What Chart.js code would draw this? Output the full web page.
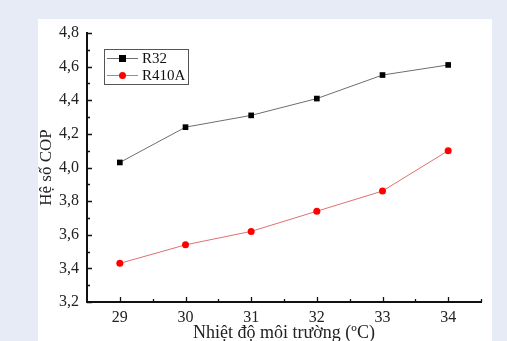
<!DOCTYPE html>
<html>
<head>
<meta charset="utf-8">
<script src="https://cdn.jsdelivr.net/npm/chart.js@4/dist/chart.umd.min.js"></script>
<style>
  html, body { margin: 0; padding: 0; background: #e6ebf5; }
  #wrap { position: relative; width: 507px; height: 341px; overflow: hidden; }
  #panel { position: absolute; left: 38px; top: 19px; width: 454px; height: 330px; background: #fff; }
  #chart { position: absolute; left: 0; top: 0; }
</style>
</head>
<body>
<div id="wrap">
  <div id="panel"></div>
  <canvas id="chart" width="507" height="341"></canvas>
</div>
<script>
const temperatures = [29, 30, 31, 32, 33, 34];
const copR32 = [4.03, 4.24, 4.31, 4.41, 4.55, 4.61];
const copR410A = [3.43, 3.54, 3.62, 3.74, 3.86, 4.10];
const seriesNames = ["R32", "R410A"];
const xTicks = [29, 30, 31, 32, 33, 34];
const xMinorTicks = [29.5, 30.5, 31.5, 32.5, 33.5, 34.5];
const yTicks = [3.2, 3.4, 3.6, 3.8, 4.0, 4.2, 4.4, 4.6, 4.8];
const yMinorTicks = [3.3, 3.5, 3.7, 3.9, 4.1, 4.3, 4.5, 4.7];
const xTitle = "Nhiệt độ môi trường (ºC)";
const yTitle = "Hệ số COP";

const FONT = "'Liberation Serif', 'Times New Roman', serif";

function toPoints(values) {
  return temperatures.map((t, i) => ({ x: t, y: values[i] }));
}

// tick marks drawn inward, like the original plot
const innerTicks = {
  id: "innerTicks",
  afterDraw(chart) {
    const { ctx, chartArea, scales } = chart;
    ctx.save();
    ctx.strokeStyle = "#111";
    ctx.lineWidth = 1.3;
    ctx.beginPath();
    xTicks.concat(xMinorTicks).forEach((v) => {
      const len = xTicks.includes(v) ? 5 : 3;
      const x = Math.round(scales.x.getPixelForValue(v)) + 0.5;
      ctx.moveTo(x, chartArea.bottom);
      ctx.lineTo(x, chartArea.bottom - len);
    });
    yTicks.concat(yMinorTicks).forEach((v) => {
      const len = yTicks.some((t) => Math.abs(t - v) < 1e-9) ? 5 : 3;
      const y = Math.round(scales.y.getPixelForValue(v)) + 0.5;
      ctx.moveTo(chartArea.left, y);
      ctx.lineTo(chartArea.left + len, y);
    });
    ctx.stroke();
    ctx.restore();
  }
};

// boxed legend with line + marker samples
const boxLegend = {
  id: "boxLegend",
  afterDraw(chart) {
    const { ctx } = chart;
    const box = { x: 104, y: 49, w: 84, h: 35 };
    ctx.save();
    ctx.strokeStyle = "#555";
    ctx.lineWidth = 1;
    ctx.strokeRect(box.x + 0.5, box.y + 0.5, box.w, box.h);
    chart.data.datasets.forEach((ds, i) => {
      const y = box.y + 9.5 + i * 17;
      ctx.strokeStyle = ds.borderColor;
      ctx.lineWidth = 1;
      ctx.beginPath();
      ctx.moveTo(box.x + 3, y);
      ctx.lineTo(box.x + 34, y);
      ctx.stroke();
      ctx.fillStyle = ds.pointBackgroundColor;
      if (ds.pointStyle === "rect") {
        ctx.fillRect(box.x + 15, y - 3.5, 7, 7);
      } else {
        ctx.beginPath();
        ctx.arc(box.x + 18.5, y, 3.5, 0, Math.PI * 2);
        ctx.fill();
      }
      ctx.fillStyle = "#111";
      ctx.font = "15px " + FONT;
      ctx.textBaseline = "middle";
      ctx.fillText(ds.label, box.x + 38, y + 1);
    });
    ctx.restore();
  }
};

new Chart(document.getElementById("chart"), {
  type: "line",
  data: {
    datasets: [
      {
        label: seriesNames[0],
        data: toPoints(copR32),
        borderColor: "#6e6e6e",
        borderWidth: 1,
        pointStyle: "rect",
        pointRadius: 4,
        pointBackgroundColor: "#000",
        pointBorderColor: "#000",
        pointBorderWidth: 0
      },
      {
        label: seriesNames[1],
        data: toPoints(copR410A),
        borderColor: "#e07070",
        borderWidth: 1,
        pointStyle: "circle",
        pointRadius: 3.5,
        pointBackgroundColor: "#ff0000",
        pointBorderColor: "#ff0000",
        pointBorderWidth: 0
      }
    ]
  },
  options: {
    responsive: false,
    animation: false,
    layout: { padding: { left: 0, top: 33, right: 26, bottom: 0 } },
    plugins: {
      legend: { display: false },
      tooltip: { enabled: false }
    },
    scales: {
      x: {
        type: "linear",
        min: 28.5,
        max: 34.5,
        afterBuildTicks: (scale) => { scale.ticks = xTicks.map((v) => ({ value: v })); },
        afterFit: (scale) => { scale.height = 39; },
        grid: { display: false, drawTicks: false },
        border: { display: true, color: "#111", width: 2 },
        ticks: {
          padding: 6,
          color: "#222",
          font: { family: FONT, size: 16 },
          maxRotation: 0
        },
        title: {
          display: true,
          text: xTitle,
          color: "#222",
          font: { family: FONT, size: 18, lineHeight: 1 },
          padding: { top: 0, bottom: -1 }
        }
      },
      y: {
        type: "linear",
        min: 3.2,
        max: 4.8,
        afterBuildTicks: (scale) => { scale.ticks = yTicks.map((v) => ({ value: v })); },
        afterFit: (scale) => { scale.width = 87; },
        grid: { display: false, drawTicks: false },
        border: { display: true, color: "#111", width: 2 },
        ticks: {
          padding: 8,
          color: "#222",
          font: { family: FONT, size: 16 },
          callback: (v) => v.toFixed(1).replace(".", ",")
        },
        title: {
          display: true,
          text: yTitle,
          color: "#222",
          font: { family: FONT, size: 17, lineHeight: 1 },
          padding: { top: 38, bottom: 0 }
        }
      }
    }
  },
  plugins: [innerTicks, boxLegend]
});
</script>
</body>
</html>
